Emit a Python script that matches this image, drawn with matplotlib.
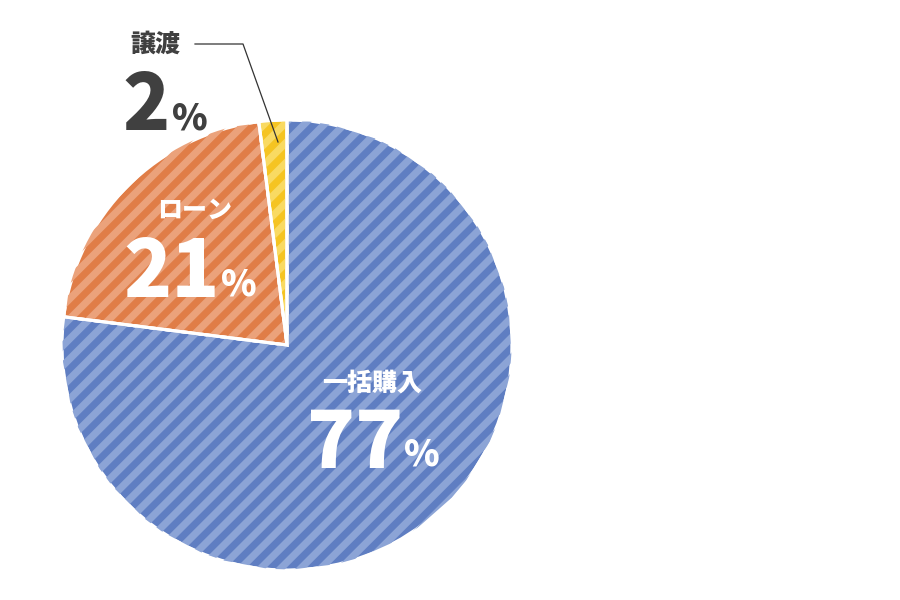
import numpy as np
import matplotlib
matplotlib.use("Agg")
import matplotlib.pyplot as plt
from matplotlib.collections import LineCollection

plt.rcParams['font.family'] = ['Noto Sans CJK JP', 'DejaVu Sans']

# data
labels = ['一括購入', 'ローン', '譲渡']
shares = [77, 21, 2]
dark_cols = ['#5f7ec2', '#e07d47', '#f5c422']
light_cols = ['#8ca4d6', '#eba27b', '#f9da62']

fig = plt.figure(figsize=(9, 6), dpi=100)
# pie centre at (287, 345) px, radius 225 px
ax = fig.add_axes([62 / 900, 30 / 600, 450 / 900, 450 / 600])

wedges, _ = ax.pie(shares, colors=dark_cols, startangle=90, counterclock=False,
                   radius=1.0, center=(0, 0),
                   wedgeprops=dict(edgecolor='white', linewidth=2.2))
ax.set_xlim(-1, 1)
ax.set_ylim(-1, 1)
ax.set_aspect('equal')
ax.axis('off')

# diagonal stripes inside each wedge
step = 0.089
cs = np.arange(-2.3, 2.3, step)
for w, lc in zip(wedges, light_cols):
    segs = [[(-1.2, -1.2 + c), (1.2, 1.2 + c)] for c in cs]
    coll = LineCollection(segs, colors=lc, linewidths=5.2, zorder=w.get_zorder() + 0.1)
    ax.add_collection(coll)
    coll.set_clip_path(w)
    # redraw white edge on top
    ax.add_patch(plt.Polygon(w.get_path().vertices, closed=True, fill=False,
                             edgecolor='white', linewidth=2.2,
                             zorder=w.get_zorder() + 0.2))


def px(x, y):
    return (x - 287) / 225, (345 - y) / 225


white = 'white'
gray = '#404040'
wt = 'black'

# 一括購入
ax.text(*px(372, 383), labels[0], color=white, fontsize=18, fontweight=wt,
        ha='center', va='center', zorder=10)
ax.text(*px(355, 468), f'{shares[0]}', color=white, fontsize=57, fontweight=wt,
        ha='center', va='baseline', zorder=10)
ax.text(*px(422, 466), '%', color=white, fontsize=26, fontweight=wt,
        ha='center', va='baseline', zorder=10)

# ローン
ax.text(*px(195, 210), labels[1], color=white, fontsize=18, fontweight=wt,
        ha='center', va='center', zorder=10)
ax.text(*px(172, 297), f'{shares[1]}', color=white, fontsize=57, fontweight=wt,
        ha='center', va='baseline', zorder=10)
ax.text(*px(239, 295), '%', color=white, fontsize=26, fontweight=wt,
        ha='center', va='baseline', zorder=10)

# 譲渡
ax.text(*px(155, 44), labels[2], color=gray, fontsize=18, fontweight=wt,
        ha='center', va='center', zorder=10)
ax.text(*px(146, 130), f'{shares[2]}', color=gray, fontsize=56, fontweight=wt,
        ha='center', va='baseline', zorder=10)
ax.text(*px(190, 130), '%', color=gray, fontsize=26, fontweight=wt,
        ha='center', va='baseline', zorder=10)

# leader line to the small slice
lx, ly = zip(px(195, 44), px(243, 44), px(278, 142))
ax.plot(lx, ly, color='#333333', linewidth=0.9, clip_on=False, zorder=11)

fig.savefig('out.png', dpi=100)
